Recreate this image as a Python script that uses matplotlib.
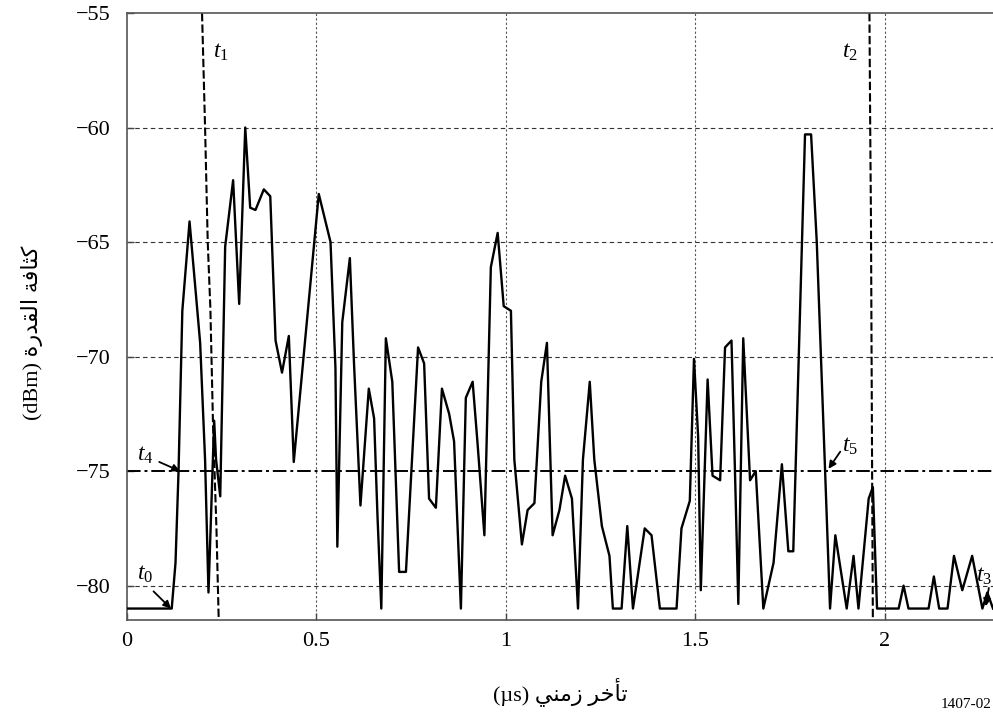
import matplotlib
matplotlib.use('Agg')
import matplotlib.pyplot as plt

# power delay profile (us, dBm)
delay = [0.000, 0.118, 0.128, 0.136, 0.146, 0.165, 0.193, 0.206, 0.215,
         0.230, 0.235, 0.246, 0.259, 0.280, 0.296, 0.312, 0.325, 0.339,
         0.361, 0.378, 0.392, 0.409, 0.427, 0.440, 0.506, 0.537, 0.550,
         0.555, 0.568, 0.588, 0.599, 0.616, 0.638, 0.652, 0.661, 0.671,
         0.683, 0.700, 0.718, 0.736, 0.768, 0.784, 0.797, 0.815, 0.831,
         0.850, 0.863, 0.881, 0.894, 0.912, 0.925, 0.943, 0.960, 0.978,
         0.994, 1.013, 1.022, 1.042, 1.057, 1.075, 1.093, 1.108, 1.123,
         1.141, 1.156, 1.174, 1.190, 1.203, 1.221, 1.233, 1.253, 1.273,
         1.282, 1.305, 1.320, 1.335, 1.366, 1.384, 1.406, 1.450, 1.463,
         1.485, 1.496, 1.507, 1.514, 1.532, 1.545, 1.565, 1.578, 1.595,
         1.604, 1.613, 1.626, 1.632, 1.644, 1.659, 1.679, 1.706, 1.728,
         1.745, 1.758, 1.789, 1.805, 1.820, 1.842, 1.855, 1.869, 1.899,
         1.917, 1.930, 1.957, 1.968, 1.979, 2.036, 2.049, 2.062, 2.115,
         2.129, 2.143, 2.165, 2.182, 2.204, 2.230, 2.257, 2.270, 2.285]
power = [-81.0, -81.0, -79.0, -75.0, -68.0, -64.1, -69.4, -74.5, -80.3,
         -72.8, -74.5, -76.1, -65.2, -62.3, -67.7, -60.0, -63.5, -63.6,
         -62.7, -63.0, -69.3, -70.7, -69.1, -74.6, -62.9, -65.0, -70.5,
         -78.3, -68.5, -65.7, -70.3, -76.5, -71.4, -72.7, -77.0, -81.0,
         -69.2, -71.1, -79.4, -79.4, -69.6, -70.3, -76.2, -76.6, -71.4,
         -72.5, -73.7, -81.0, -71.8, -71.1, -73.8, -77.8, -66.1, -64.6,
         -67.8, -68.0, -74.5, -78.2, -76.7, -76.4, -71.1, -69.4, -77.8,
         -76.7, -75.2, -76.2, -81.0, -74.5, -71.1, -74.5, -77.4, -78.7,
         -81.0, -81.0, -77.4, -81.0, -77.5, -77.8, -81.0, -81.0, -77.5,
         -76.3, -70.1, -73.5, -80.2, -71.0, -75.2, -75.4, -69.6, -69.3,
         -74.9, -80.8, -69.2, -71.3, -75.4, -75.0, -81.0, -79.0, -74.7,
         -78.5, -78.5, -60.3, -60.3, -65.0, -75.0, -81.0, -77.8, -81.0,
         -78.7, -81.0, -76.2, -75.7, -81.0, -81.0, -80.0, -81.0, -81.0,
         -79.6, -81.0, -81.0, -78.7, -80.2, -78.7, -81.0, -80.3, -81.0]

# t1 / t2 boundary curves
t1_x = [0.198, 0.202, 0.206, 0.213, 0.220, 0.227, 0.231, 0.236, 0.242]
t1_y = [-55.0, -57.5, -60.0, -65.0, -67.9, -73.0, -75.0, -77.5, -81.5]
t2_x = [1.959, 1.961, 1.963, 1.966, 1.968]
t2_y = [-55.0, -60.0, -64.0, -75.0, -81.5]
threshold = -75.0

xticks = [0, 0.5, 1, 1.5, 2]
xtick_labels = ['0', '0.5', '1', '1.5', '2']
yticks = [-80, -75, -70, -65, -60, -55]

# Arabic labels, pre-shaped and in visual order
xlabel = '(\u00b5s) ' + '\uFEF2\uFEE8\uFEE3\uFEAF' + ' ' + '\uFEAE\uFEA7\uFE84\uFE97'
ylabel = ('(dBm) ' + '\uFE93\uFEAD\uFEAA\uFED8\uFEDF\uFE8D' + ' '
          + '\uFE94\uFED3\uFE8E\uFE9C\uFEDB')

plt.rcParams['font.family'] = ['Liberation Serif', 'DejaVu Sans']
plt.rcParams['mathtext.fontset'] = 'custom'
plt.rcParams['mathtext.rm'] = 'Liberation Serif'
plt.rcParams['mathtext.it'] = 'Liberation Serif:italic'

fig = plt.figure(figsize=(9.93, 7.12), dpi=100)
ax = fig.add_axes([127 / 993, 1 - 620 / 712, 1 - 127 / 993, (620 - 13) / 712])

for y in [-80, -70, -65, -60]:
    ax.axhline(y, color='#333333', lw=0.8, ls=(0, (4, 3)), zorder=1)
for x in [0.5, 1, 1.5, 2]:
    ax.axvline(x, color='#555555', lw=0.8, ls=(0, (2, 2)), zorder=1)

ax.axhline(threshold, color='black', lw=1.4, ls=(0, (7, 2, 1.5, 2)), zorder=2)
ax.plot(t1_x, t1_y, color='black', lw=1.5, ls=(0, (4, 1.5)), zorder=2)
ax.plot(t2_x, t2_y, color='black', lw=1.5, ls=(0, (4, 1.5)), zorder=2)
ax.plot(delay, power, color='black', lw=1.7, zorder=3)

ax.set_xlim(0, 2.285)
ax.set_ylim(-81.5, -55)
ax.set_xticks(xticks)
ax.set_xticklabels(xtick_labels)
ax.set_yticks(yticks)
ax.tick_params(direction='in', length=5, width=1, labelsize=16, color='#444444')
ax.tick_params(axis='y', pad=12)
ax.tick_params(axis='x', pad=9)
for s in ['left', 'bottom', 'top']:
    ax.spines[s].set_color('#555555')
    ax.spines[s].set_linewidth(1.2)
ax.spines['right'].set_visible(False)

# marker labels
tfs = 17
ax.text(0.248, -56.7, r'$t_1$', fontsize=tfs, ha='center', va='center')
ax.text(1.908, -56.7, r'$t_2$', fontsize=tfs, ha='center', va='center')
ax.text(0.047, -74.3, r'$t_4$', fontsize=tfs, ha='center', va='center')
ax.text(1.907, -73.9, r'$t_5$', fontsize=tfs, ha='center', va='center')
ax.text(0.047, -79.5, r'$t_0$', fontsize=tfs, ha='center', va='center')
ax.text(2.262, -79.6, r'$t_3$', fontsize=tfs, ha='center', va='center')

arrow = dict(arrowstyle='-|>', color='black', lw=1.3, mutation_scale=11,
             shrinkA=0, shrinkB=0)
ax.annotate('', xy=(0.140, -75.0), xytext=(0.085, -74.6), arrowprops=arrow)
ax.annotate('', xy=(0.116, -81.0), xytext=(0.070, -80.25), arrowprops=arrow)
ax.annotate('', xy=(1.851, -74.9), xytext=(1.882, -74.15), arrowprops=arrow)
ax.annotate('', xy=(2.266, -80.9), xytext=(2.274, -80.1), arrowprops=arrow)

fig.text(0.5 + 127 / 993 / 2, 1 - 692 / 712, xlabel, fontsize=16,
         ha='center', va='center')
fig.text(32 / 993, 1 - 333 / 712, ylabel, fontsize=16, rotation=90,
         ha='center', va='center')
fig.text(0.999, 0.002, '1407-02', fontsize=11, ha='right', va='bottom')

fig.savefig('out.png', dpi=100)
